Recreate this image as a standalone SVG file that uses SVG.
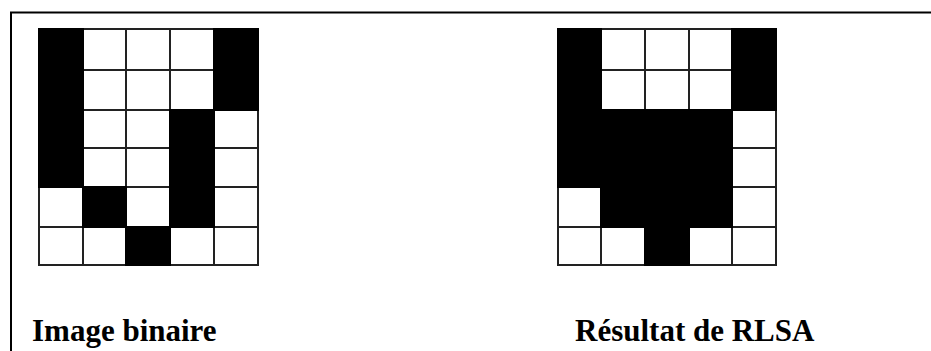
<svg xmlns="http://www.w3.org/2000/svg" width="931" height="351" viewBox="0 0 931 351">
<style>
.w{fill:#fff;stroke:#222;stroke-width:2}
.b{fill:#000;stroke:#000;stroke-width:2}
.lbl{font-family:"Liberation Serif","Times New Roman",serif;font-weight:bold;font-size:31px;fill:#000}
.frame{fill:none;stroke:#000;stroke-width:2}
</style>
<rect width="931" height="351" fill="#fff"/>
<g id="frame"><path class="frame" d="M11,351 V12.5 H931"/></g>
<g id="grid-binaire">
<rect class="w" x="83" y="29" width="43" height="41"/><rect class="w" x="126" y="29" width="44" height="41"/><rect class="w" x="170" y="29" width="44" height="41"/>
<rect class="w" x="83" y="70" width="43" height="40"/><rect class="w" x="126" y="70" width="44" height="40"/><rect class="w" x="170" y="70" width="44" height="40"/>
<rect class="w" x="83" y="110" width="43" height="38"/><rect class="w" x="126" y="110" width="44" height="38"/><rect class="w" x="214" y="110" width="44" height="38"/>
<rect class="w" x="83" y="148" width="43" height="39"/><rect class="w" x="126" y="148" width="44" height="39"/><rect class="w" x="214" y="148" width="44" height="39"/>
<rect class="w" x="39" y="187" width="44" height="40"/><rect class="w" x="126" y="187" width="44" height="40"/><rect class="w" x="214" y="187" width="44" height="40"/>
<rect class="w" x="39" y="227" width="44" height="38"/><rect class="w" x="83" y="227" width="43" height="38"/><rect class="w" x="170" y="227" width="44" height="38"/><rect class="w" x="214" y="227" width="44" height="38"/>
<rect class="b" x="39" y="29" width="44" height="158"/>
<rect class="b" x="214" y="29" width="44" height="81"/>
<rect class="b" x="170" y="110" width="44" height="117"/>
<rect class="b" x="83" y="187" width="43" height="40"/>
<rect class="b" x="126" y="227" width="44" height="38"/>
</g>
<g id="grid-rlsa">
<rect class="w" x="601" y="29" width="44" height="41"/><rect class="w" x="645" y="29" width="44" height="41"/><rect class="w" x="689" y="29" width="43" height="41"/>
<rect class="w" x="601" y="70" width="44" height="40"/><rect class="w" x="645" y="70" width="44" height="40"/><rect class="w" x="689" y="70" width="43" height="40"/>
<rect class="w" x="732" y="110" width="44" height="38"/>
<rect class="w" x="732" y="148" width="44" height="39"/>
<rect class="w" x="558" y="187" width="43" height="40"/><rect class="w" x="732" y="187" width="44" height="40"/>
<rect class="w" x="558" y="227" width="43" height="38"/><rect class="w" x="601" y="227" width="44" height="38"/><rect class="w" x="689" y="227" width="43" height="38"/><rect class="w" x="732" y="227" width="44" height="38"/>
<rect class="b" x="558" y="29" width="43" height="158"/>
<rect class="b" x="732" y="29" width="44" height="81"/>
<rect class="b" x="601" y="110" width="131" height="117"/>
<rect class="b" x="645" y="227" width="44" height="38"/>
</g>
<g id="label-binaire"><text class="lbl" x="32" y="341">Image binaire</text></g>
<g id="label-rlsa"><text class="lbl" x="575" y="341">Résultat de RLSA</text></g>
</svg>
